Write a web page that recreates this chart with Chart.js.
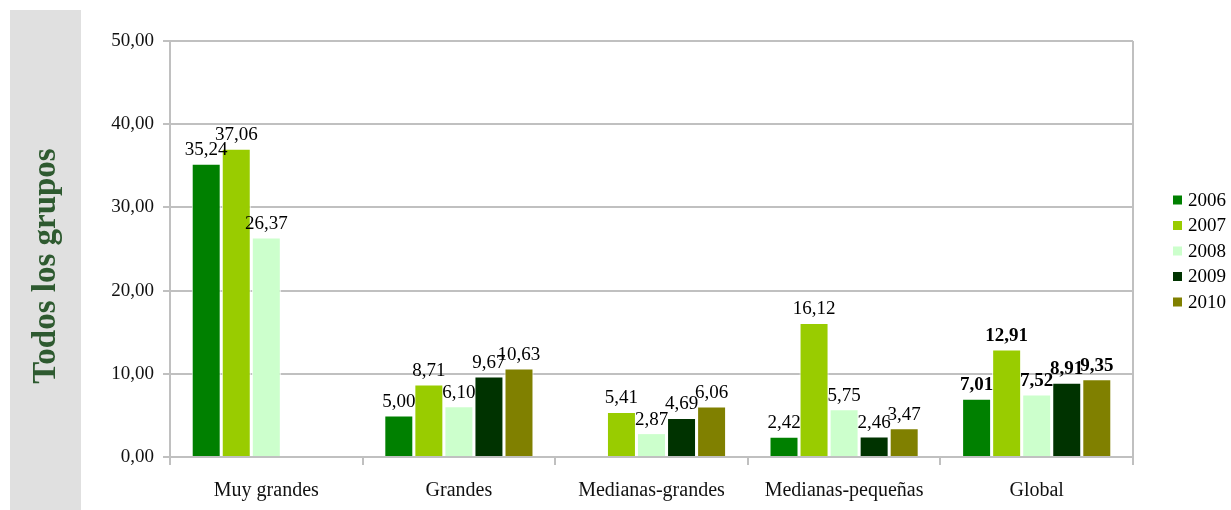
<!DOCTYPE html>
<html>
<head>
<meta charset="utf-8">
<script src="https://cdn.jsdelivr.net/npm/chart.js@4.4.0/dist/chart.umd.min.js"></script>
<style>
  html, body { margin: 0; padding: 0; background: #ffffff; }
  #wrap { width: 1231px; height: 510px; position: relative; }
</style>
</head>
<body>
<div id="wrap"><canvas id="c" width="1231" height="510"></canvas></div>
<script>
const categories = ["Muy grandes", "Grandes", "Medianas-grandes", "Medianas-pequeñas", "Global"];
const seriesNames = ["2006", "2007", "2008", "2009", "2010"];
const values2006 = [35.24, 5.00, null, 2.42, 7.01];
const values2007 = [37.06, 8.71, 5.41, 16.12, 12.91];
const values2008 = [26.37, 6.10, 2.87, 5.75, 7.52];
const values2009 = [null, 9.67, 4.69, 2.46, 8.91];
const values2010 = [null, 10.63, 6.06, 3.47, 9.35];
const yTicks = [0, 10, 20, 30, 40, 50];
const axisTitle = "Todos los grupos";

const colors = ["#008000", "#99cc00", "#ccffcc", "#003300", "#808000"];
const allValues = [values2006, values2007, values2008, values2009, values2010];

const fmt = v => v.toFixed(2).replace('.', ',');
const FONT = '"Liberation Serif", "Times New Roman", serif';

const decorPlugin = {
  id: 'decor',
  beforeDraw(chart) {
    const ctx = chart.ctx;
    ctx.save();
    ctx.fillStyle = '#e0e0e0';
    ctx.fillRect(10, 10, 71, 500);
    ctx.translate(46, 266);
    ctx.rotate(-Math.PI / 2);
    ctx.fillStyle = '#2e5a30';
    ctx.font = 'bold 33px ' + FONT;
    ctx.textAlign = 'center';
    ctx.textBaseline = 'middle';
    ctx.fillText(axisTitle, 0, 0);
    ctx.restore();
  },
  afterDraw(chart) {
    const ctx = chart.ctx;
    const ca = chart.chartArea;
    ctx.save();
    ctx.strokeStyle = '#c0c0c0';
    ctx.lineWidth = 2;
    ctx.beginPath();
    ctx.moveTo(ca.right, ca.top);
    ctx.lineTo(ca.right, ca.bottom);
    ctx.stroke();
    ctx.fillStyle = '#000000';
    ctx.textAlign = 'center';
    ctx.textBaseline = 'bottom';
    chart.data.datasets.forEach((ds, di) => {
      const meta = chart.getDatasetMeta(di);
      meta.data.forEach((bar, i) => {
        const v = ds.data[i];
        if (v === null || v === undefined) return;
        const bold = i === categories.length - 1;
        ctx.font = (bold ? 'bold ' : '') + '19px ' + FONT;
        ctx.fillText(fmt(v), bar.x, bar.y - 4);
      });
    });
    ctx.textAlign = 'left';
    ctx.textBaseline = 'middle';
    ctx.font = '19px ' + FONT;
    chart.data.datasets.forEach((ds, di) => {
      const y = 200 + di * 25.5;
      ctx.fillStyle = ds.backgroundColor;
      ctx.fillRect(1173, y - 4.5, 9, 9);
      ctx.fillStyle = '#000000';
      ctx.fillText(ds.label, 1188, y + 1);
    });
    ctx.restore();
  }
};

new Chart(document.getElementById('c'), {
  type: 'bar',
  data: {
    labels: categories,
    datasets: seriesNames.map((name, k) => ({
      label: name,
      data: allValues[k],
      backgroundColor: colors[k],
      borderColor: '#ffffff',
      borderWidth: 1,
      barPercentage: 0.965,
      categoryPercentage: 0.78
    }))
  },
  options: {
    responsive: false,
    animation: false,
    devicePixelRatio: 1,
    layout: { padding: { left: 90, top: 41, right: 98, bottom: 0 } },
    plugins: {
      legend: { display: false },
      tooltip: { enabled: false }
    },
    scales: {
      x: {
        afterFit(scale) { scale.height = 53; },
        grid: {
          drawOnChartArea: false,
          color: '#c0c0c0',
          lineWidth: 2,
          tickLength: 8
        },
        border: { color: '#c0c0c0', width: 2 },
        ticks: {
          color: '#111111',
          font: { family: FONT, size: 20 },
          padding: 14
        }
      },
      y: {
        min: 0,
        max: 50,
        afterFit(scale) { scale.width = 80; },
        afterBuildTicks(scale) { scale.ticks = yTicks.map(v => ({ value: v })); },
        grid: {
          color: '#c0c0c0',
          lineWidth: 2,
          tickLength: 7
        },
        border: { color: '#c0c0c0', width: 2 },
        ticks: {
          color: '#111111',
          font: { family: FONT, size: 19 },
          padding: 9,
          callback: v => fmt(v)
        }
      }
    }
  },
  plugins: [decorPlugin]
});
</script>
</body>
</html>
